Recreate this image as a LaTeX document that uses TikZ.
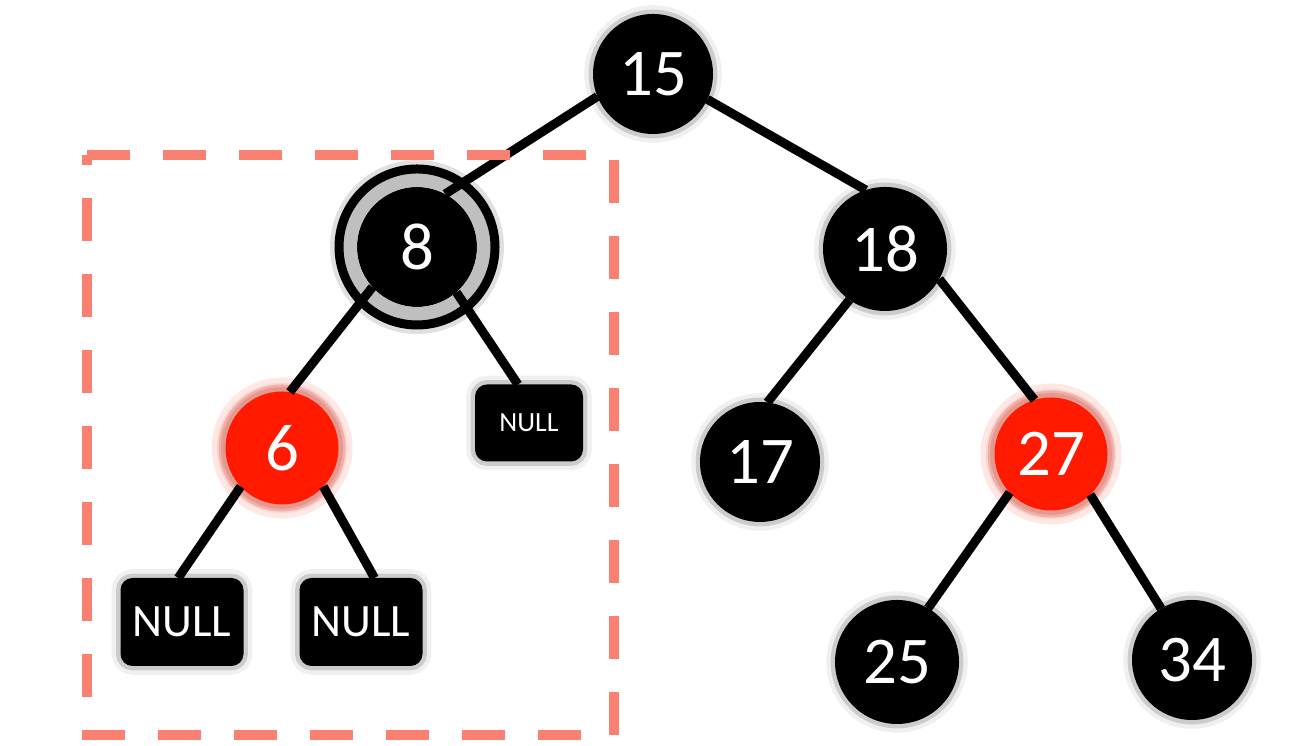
\documentclass[tikz,border=0pt]{standalone}
\usepackage{fontspec}
\setmainfont{Carlito}
\definecolor{boxsalmon}{RGB}{250,128,114}
\definecolor{nodered}{RGB}{255,26,0}
\begin{document}
\begin{tikzpicture}[
    keynode/.style={circle,fill=black,text=white,inner sep=0pt,outer sep=0pt,
      minimum size=1.2cm,font=\fontsize{19}{19}\selectfont,
      preaction={draw=black,opacity=0.06,line width=5pt},
      preaction={draw=black,opacity=0.15,line width=2.5pt}},
    rednode/.style={keynode,fill=nodered,minimum size=1.13cm,
      preaction={draw=nodered!70,opacity=0.15,line width=8pt},
      preaction={draw=nodered!80,opacity=0.3,line width=4pt}},
    nullbox/.style={rectangle,rounded corners=0.12cm,fill=black,text=white,
      inner sep=0pt,outer sep=0pt,minimum width=1.23cm,minimum height=0.88cm,
      font=\fontsize{13.2}{13.2}\selectfont,
      preaction={draw=black,opacity=0.06,line width=5pt},
      preaction={draw=black,opacity=0.15,line width=2.5pt}},
    smallnull/.style={nullbox,minimum width=1.08cm,minimum height=0.77cm,
      font=\fontsize{7.9}{7.9}\selectfont},
    edge/.style={line width=0.09cm}]
  \useasboundingbox (0,0) rectangle (13.08,7.46);
  \node[keynode] (n15) at (6.53,6.72) {15};
  \node[keynode] (n8) at (4.17,4.99) {8};
  \node[keynode,minimum size=1.24cm] (n18) at (8.85,4.97) {18};
  \node[rednode] (n6) at (2.82,2.98) {6};
  \node[smallnull] (null3) at (5.29,3.23) {NULL};
  \node[keynode] (n17) at (7.60,2.84) {17};
  \node[rednode] (n27) at (10.51,2.92) {27};
  \node[nullbox] (null1) at (1.82,1.24) {NULL};
  \node[nullbox] (null2) at (3.61,1.24) {NULL};
  \node[keynode,minimum size=1.24cm] (n25) at (8.97,0.84) {25};
  \node[keynode] (n34) at (11.92,0.86) {34};
  \draw[black,opacity=0.12,line width=0.16cm] (n8) circle (0.79);
  \draw[gray!50,line width=0.14cm] (n8) circle (0.67);
  \draw[line width=0.09cm] (n8) circle (0.78);
  \draw[edge] (n15.202) -- (n8.62);
  \draw[edge] (n15.335) -- (n18.108);
  \draw[edge] (n18.235) -- (n17.83);
  \draw[edge] (n18.331) -- (n27.107);
  \draw[edge] (n27.223) -- (n25.60);
  \draw[edge] (n27.314) -- (n34.121);
  \draw[edge] (n8.222) -- (n6.82);
  \draw[edge] (n8.311) -- (null3.106);
  \draw[edge] (n6.223) -- (null1.95);
  \draw[edge] (n6.317) -- (null2.73);
  \draw[boxsalmon,line width=0.1cm,dash pattern=on 0.43cm off 0.33cm]
    (0.87,5.91) -- (6.14,5.91) -- (6.14,0.11) -- (0.87,0.11) -- cycle;
\end{tikzpicture}
\end{document}
